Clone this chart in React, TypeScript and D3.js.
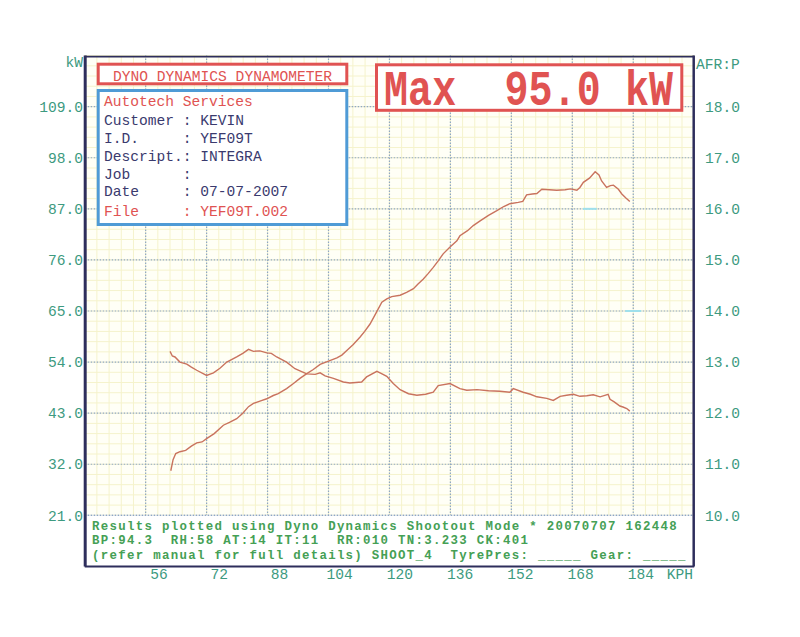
import React from 'react';
import * as d3 from 'd3';

const speedTicks = [56, 72, 88, 104, 120, 136, 152, 168, 184];
const kwTicks = [21, 32, 43, 54, 65, 76, 87, 98, 109];
const afrTicks = [10, 11, 12, 13, 14, 15, 16, 17, 18];

const powerSpeed = [62.6, 63.2, 63.9, 65.0, 66.5, 68.0, 69.4, 70.8, 72.0, 74.0, 76.4, 78.0, 79.9, 81.5, 83.0, 84.3, 86.0, 87.8, 89.5, 90.8, 93.0, 94.8, 96.5, 98.3, 100.0, 101.8, 104.0, 106.2, 107.5, 108.8, 110.5, 112.3, 113.5, 114.9, 116.5, 118.0, 119.3, 120.6, 122.8, 124.5, 126.3, 127.5, 128.9, 130.2, 131.5, 132.8, 134.1, 135.9, 137.7, 138.5, 140.5, 142.0, 143.8, 146.0, 148.2, 150.0, 151.6, 153.8, 155.0, 156.0, 157.5, 158.7, 160.0, 162.0, 163.9, 166.1, 167.5, 169.2, 170.0, 170.9, 172.5, 174.0, 175.0, 175.7, 177.0, 178.0, 178.8, 180.1, 181.0, 182.0, 183.1];
const powerKW = [30.6, 33.0, 34.3, 34.7, 35.0, 35.9, 36.6, 36.8, 37.5, 38.6, 40.4, 41.0, 41.8, 43.0, 44.4, 45.1, 45.6, 46.1, 46.8, 47.2, 48.3, 49.4, 50.5, 51.5, 52.4, 53.5, 54.2, 54.9, 55.5, 56.5, 57.8, 59.4, 60.6, 62.2, 64.6, 66.9, 67.6, 68.1, 68.4, 69.0, 69.8, 70.8, 71.9, 73.1, 74.4, 75.8, 77.3, 78.8, 80.1, 81.2, 82.3, 83.4, 84.4, 85.6, 86.6, 87.5, 88.1, 88.4, 88.6, 90.0, 90.2, 90.3, 91.2, 91.1, 91.0, 91.1, 91.3, 91.0, 91.6, 92.7, 93.6, 95.0, 94.3, 93.0, 91.6, 92.0, 92.1, 91.2, 90.2, 89.4, 88.6];

const afrSpeed = [62.4, 63.0, 63.7, 65.0, 66.8, 68.0, 69.4, 72.0, 73.8, 75.5, 77.3, 79.9, 81.5, 83.0, 84.3, 86.0, 87.8, 89.0, 90.4, 93.0, 95.2, 96.8, 98.3, 100.5, 101.8, 103.1, 105.3, 107.9, 109.6, 111.2, 112.7, 114.0, 116.7, 117.8, 119.3, 121.0, 122.8, 125.0, 127.2, 129.5, 131.5, 132.8, 135.9, 138.5, 140.3, 143.0, 146.0, 149.0, 151.6, 152.5, 155.1, 157.0, 158.7, 161.3, 163.0, 164.8, 166.5, 168.3, 170.0, 171.8, 173.5, 175.3, 177.4, 177.9, 179.0, 180.5, 181.3, 182.3, 183.1];
const afrValues = [13.21, 13.12, 13.10, 13.00, 12.96, 12.90, 12.84, 12.74, 12.79, 12.88, 13.00, 13.10, 13.17, 13.25, 13.21, 13.22, 13.18, 13.17, 13.10, 13.00, 12.87, 12.82, 12.77, 12.76, 12.79, 12.73, 12.68, 12.61, 12.59, 12.60, 12.61, 12.71, 12.82, 12.78, 12.72, 12.58, 12.46, 12.38, 12.35, 12.37, 12.41, 12.54, 12.58, 12.48, 12.45, 12.46, 12.44, 12.43, 12.41, 12.48, 12.41, 12.37, 12.32, 12.29, 12.25, 12.33, 12.35, 12.37, 12.33, 12.34, 12.36, 12.32, 12.37, 12.27, 12.22, 12.14, 12.12, 12.09, 12.04];

const infoLabels = ['Customer', 'I.D.', 'Descript.', 'Job', 'Date', 'File'];
const infoValues = ['KEVIN', 'YEF09T', 'INTEGRA', '', '07-07-2007', 'YEF09T.002'];
const footerLines = [
  'Results plotted using Dyno Dynamics Shootout Mode * 20070707 162448',
  'BP:94.3  RH:58 AT:14 IT:11  RR:010 TN:3.233 CK:401',
  '(refer manual for full details) SHOOT_4  TyrePres: _____ Gear: _____',
];
const titleText = 'DYNO DYNAMICS DYNAMOMETER';
const companyText = 'Autotech Services';
const maxText = 'Max  95.0 kW';

const FONT = '"Liberation Mono", "DejaVu Sans Mono", monospace';
const RED = '#e05352';
const NAVY = '#3a3a6e';
const TEAL = '#3d9a80';
const GREEN = '#45a055';
const CURVE = '#c9735e';

const nb = (s: string) => s.replace(/ /g, '\u00A0');

export default function App() {
  const x = d3.scaleLinear().domain([40, 200]).range([84.7, 694.2]);
  const yKW = d3.scaleLinear().domain([10, 120]).range([566.4, 55.6]);
  const yAFR = d3.scaleLinear().domain([9, 19]).range([566.4, 55.6]);
  const xLabel = d3.scaleLinear().domain([56, 184]).range([159, 641]);

  const left = x(40), right = x(200), top = yKW(120), bottom = yKW(10);
  const boxTop = yKW(21);

  const minorX = d3.range(40, 200.01, 3.2);
  const minorY = d3.range(10, 120.01, 2.2);

  const powerLine = d3.line<number>()
    .x((_, i) => x(powerSpeed[i]))
    .y((d) => yKW(d));
  const afrLine = d3.line<number>()
    .x((_, i) => x(afrSpeed[i]))
    .y((d) => yAFR(d));

  const infoBaselines = [125, 143, 161, 178.5, 196, 215.5];

  return (
    <svg width={800} height={637} style={{ position: 'absolute', left: 0, top: 0, background: '#fff' }}>
      {/* plot background */}
      <rect x={left} y={top} width={right - left} height={bottom - top} fill="#fffff6" />
      {/* minor grid */}
      <g stroke="#f5f3cc" strokeWidth={1}>
        {minorX.map((v, i) => (
          <line key={'mx' + i} x1={x(v)} x2={x(v)} y1={top} y2={boxTop} />
        ))}
        {minorY.map((v, i) => (
          <line key={'my' + i} x1={left} x2={right} y1={yKW(v)} y2={yKW(v)} />
        ))}
      </g>
      {/* major grid */}
      <g stroke="#8ea6c6" strokeWidth={1.2} strokeDasharray="1.5,1.5">
        {speedTicks.map((v) => (
          <line key={'gx' + v} x1={x(v)} x2={x(v)} y1={top} y2={boxTop} />
        ))}
        {kwTicks.map((v) => (
          <line key={'gy' + v} x1={left} x2={right} y1={yKW(v)} y2={yKW(v)} />
        ))}
      </g>
      {/* cursor marks */}
      <g stroke="#9fe0ec" strokeWidth={2}>
        <line x1={x(184) - 8} x2={x(184) + 8} y1={yKW(65)} y2={yKW(65)} />
        <line x1={x(172.6) - 7} x2={x(172.6) + 7} y1={yKW(87)} y2={yKW(87)} />
      </g>

      {/* curves */}
      <path d={afrLine(afrValues) || ''} fill="none" stroke={CURVE} strokeWidth={1.4} />
      <path d={powerLine(powerKW) || ''} fill="none" stroke={CURVE} strokeWidth={1.4} />

      {/* footer box */}
      <rect x={left} y={boxTop} width={right - left} height={bottom - boxTop} fill="#fff" />
      <line x1={left} x2={right} y1={boxTop} y2={boxTop} stroke="#8ea6c6" strokeWidth={1.2} strokeDasharray="1.5,1.5" />
      <g fontFamily={FONT} fontSize={12.4} letterSpacing={1.31} fill={GREEN} fontWeight="bold">
        {footerLines.map((t, i) => (
          <text key={'f' + i} x={92} y={530 + i * 14.3}>{nb(t)}</text>
        ))}
      </g>

      {/* frame */}
      <g stroke="#2e2e5c" fill="none">
        <line x1={left + 0.5} x2={left + 0.5} y1={top} y2={bottom} strokeWidth={3} />
        <line x1={right - 0.5} x2={right - 0.5} y1={top} y2={bottom} strokeWidth={2.5} />
        <line x1={left} x2={right} y1={top + 1} y2={top + 1} strokeWidth={1.6} />
        <line x1={left} x2={right} y1={bottom} y2={bottom} strokeWidth={2} />
      </g>

      {/* title box */}
      <rect x={98.2} y={64.2} width={248.6} height={19.6} fill="#fff" stroke={RED} strokeWidth={3} />
      <text x={222.5} y={80.5} textAnchor="middle" fontFamily={FONT} fontSize={14.6} fill={RED}>{titleText}</text>

      {/* info box */}
      <rect x={98.2} y={90.5} width={248.6} height={134} fill="#fff" stroke="#4f9bd6" strokeWidth={3} />
      <g fontFamily={FONT} fontSize={14.6}>
        <text x={104} y={106} fill={RED}>{companyText}</text>
        {infoLabels.map((lab, i) => (
          <text key={'i' + i} x={104} y={infoBaselines[i]} fill={lab === 'File' ? RED : NAVY}>
            {nb(lab.padEnd(9, ' ') + ': ' + infoValues[i])}
          </text>
        ))}
      </g>

      {/* max box */}
      <rect x={376.5} y={64.8} width={305.3} height={45.5} fill="#fff" stroke={RED} strokeWidth={3} />
      <text
        transform="translate(384,104.5) scale(1,1.27)"
        fontFamily={FONT}
        fontWeight="bold"
        fontSize={40}
        fill={RED}
        textLength={289}
        lengthAdjust="spacing"
      >
        {nb(maxText)}
      </text>

      {/* axes labels */}
      <g fontFamily={FONT} fontSize={14.6} fill={TEAL}>
        <text x={83} y={67} textAnchor="end">kW</text>
        {kwTicks.map((v) => (
          <text key={'lk' + v} x={83} y={yKW(v)} dy="0.36em" textAnchor="end">{v.toFixed(1)}</text>
        ))}
        <text x={696} y={69}>AFR:P</text>
        {afrTicks.map((v) => (
          <text key={'ra' + v} x={705} y={yAFR(v)} dy="0.36em">{v.toFixed(1)}</text>
        ))}
        {speedTicks.map((v) => (
          <text key={'xs' + v} x={xLabel(v)} y={579} textAnchor="middle">{v}</text>
        ))}
        <text x={680} y={579} textAnchor="middle">KPH</text>
      </g>
    </svg>
  );
}
